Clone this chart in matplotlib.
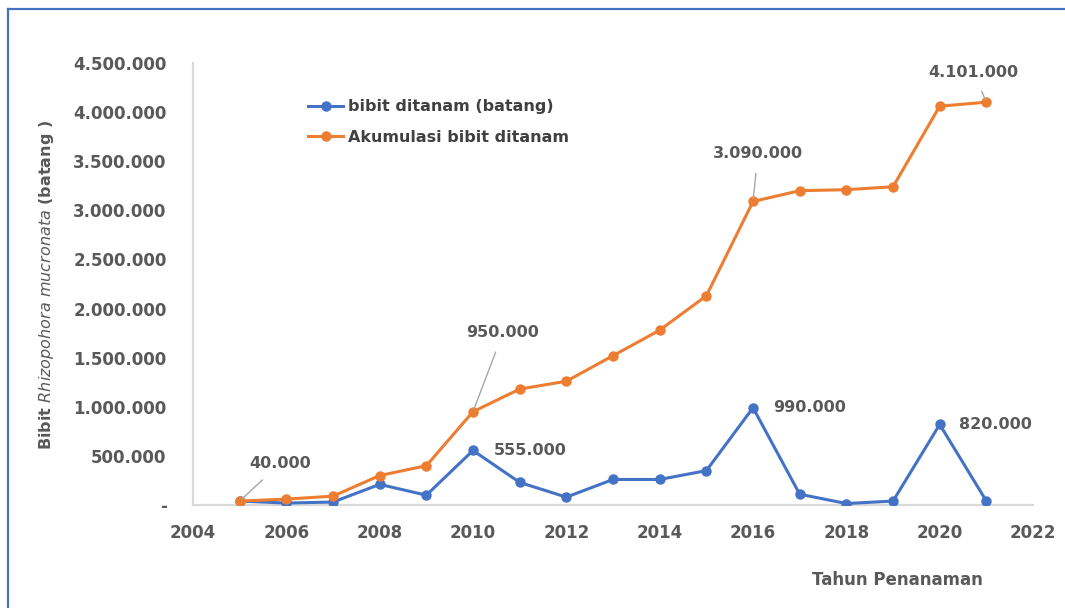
import matplotlib
matplotlib.use("Agg")
import matplotlib.pyplot as plt
import matplotlib.ticker as mticker
from matplotlib.lines import Line2D

# planting data (seedlings per year and running total)
years = [2005, 2006, 2007, 2008, 2009, 2010, 2011, 2012, 2013,
         2014, 2015, 2016, 2017, 2018, 2019, 2020, 2021]
planted = [40000, 20000, 30000, 210000, 100000, 555000, 230000, 80000, 260000,
           260000, 350000, 990000, 110000, 15000, 40000, 820000, 40000]
cumulative = [40000, 60000, 90000, 300000, 400000, 950000, 1180000, 1260000, 1520000,
              1780000, 2130000, 3090000, 3200000, 3210000, 3240000, 4060000, 4101000]

label_planted = "bibit ditanam (batang)"
label_cumul = "Akumulasi bibit ditanam"

BLUE = "#4472C4"
ORANGE = "#ED7D31"
TXT = "#595959"
GRID = "#d9d9d9"

plt.rcParams["font.family"] = ["DejaVu Sans"]
plt.rcParams["mathtext.fontset"] = "custom"
plt.rcParams["mathtext.it"] = "DejaVu Sans:italic"
plt.rcParams["mathtext.rm"] = "DejaVu Sans:bold"


def dotted_thousands(v, _):
    if v == 0:
        return "-"
    return f"{int(v):,}".replace(",", ".")


fig = plt.figure(figsize=(10.65, 6.08), dpi=100)
ax = fig.add_axes([0.1812, 0.1694, 0.7888, 0.727])

ax.plot(years, planted, color=BLUE, lw=2.2, marker="o", ms=6.5, label=label_planted,
        zorder=3)
ax.plot(years, cumulative, color=ORANGE, lw=2.2, marker="o", ms=6.5, label=label_cumul,
        zorder=3)

ax.set_xlim(2004, 2022)
ax.set_ylim(0, 4500000)
ax.xaxis.set_major_locator(mticker.MultipleLocator(2))
ax.yaxis.set_major_locator(mticker.MultipleLocator(500000))
ax.yaxis.set_major_formatter(mticker.FuncFormatter(dotted_thousands))

for s in ("top", "right"):
    ax.spines[s].set_visible(False)
for s in ("left", "bottom"):
    ax.spines[s].set_color(GRID)
    ax.spines[s].set_linewidth(1.6)
ax.tick_params(length=0, colors=TXT, labelsize=12)
ax.tick_params(axis="y", pad=19)
ax.tick_params(axis="x", pad=14)
for lab in ax.get_xticklabels() + ax.get_yticklabels():
    lab.set_fontweight("bold")

leg = ax.legend(loc="upper left", bbox_to_anchor=(0.12, 0.95), frameon=False,
                handlelength=2.2, handletextpad=0.3, labelspacing=0.95,
                prop={"weight": "bold", "size": 11.5})
for t in leg.get_texts():
    t.set_color("#404040")

# value callouts
ann_kw = dict(textcoords="offset pixels", ha="center", va="center",
              fontsize=11.5, fontweight="bold", color=TXT)
lead = dict(arrowstyle="-", color="#a6a6a6", lw=1.0, shrinkA=7, shrinkB=2)


def callout(x, y, dx, dy, with_line):
    ax.annotate(dotted_thousands(y, None), xy=(x, y), xytext=(dx, dy),
                arrowprops=lead if with_line else None, **ann_kw)


callout(years[0], cumulative[0], 41, 38, True)
callout(years[5], cumulative[5], 30, 79, True)
callout(years[11], cumulative[11], 5, 48, True)
callout(years[16], cumulative[16], -13, 30, True)
callout(years[5], planted[5], 57, 0, False)
callout(years[11], planted[11], 57, 0, False)
callout(years[15], planted[15], 56, 0, False)

fig.text(47 / 1065, 1 - 285 / 608,
         r"Bibit $\it{Rhizopohora\ mucronata}$ (batang )",
         rotation=90, ha="center", va="center", fontsize=11.5, fontweight="bold",
         color=TXT)
fig.text(897 / 1065, 1 - 580 / 608, "Tahun Penanaman", ha="center", va="center",
         fontsize=12, fontweight="bold", color=TXT)

# outer frame edges
fig.add_artist(Line2D([8 / 1065, 1.0], [1 - 9 / 608, 1 - 9 / 608],
                      transform=fig.transFigure, color=BLUE, lw=1.6))
fig.add_artist(Line2D([8 / 1065, 8 / 1065], [0, 1 - 9 / 608],
                      transform=fig.transFigure, color=BLUE, lw=1.6))

fig.savefig("out.png", dpi=100)
